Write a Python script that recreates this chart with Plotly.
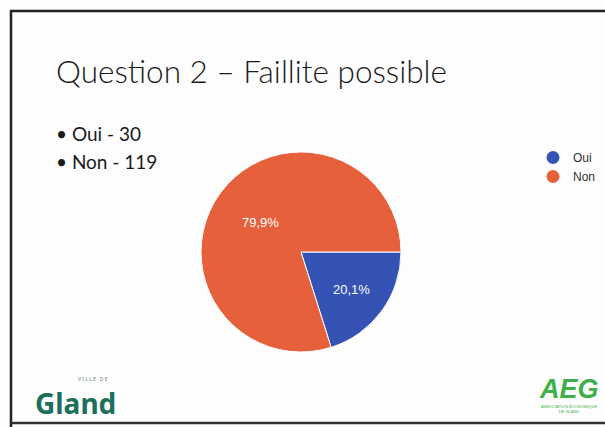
import plotly.graph_objects as go

W, H = 605, 427

labels = ["Oui", "Non"]
values = [30, 119]
colors = ["#3553B5", "#E5603B"]
title_text = "Question 2 – Faillite possible"
bullets = ["Oui - 30", "Non - 119"]

def px(x):
    return x / W

def py(y):
    return 1 - y / H

fig = go.Figure()

fig.add_trace(go.Pie(
    labels=labels, values=values, sort=False, direction="clockwise", rotation=90,
    marker=dict(colors=colors, line=dict(color="white", width=1)),
    texttemplate="%{percent:.1%}", textposition="inside", insidetextorientation="horizontal",
    textfont=dict(family="Liberation Sans, Arial", size=13, color="white"),
    domain=dict(x=[px(201), px(401)], y=[py(352), py(152)]),
    showlegend=False, hoverinfo="label+value+percent",
))

for lab, col in zip(labels, colors):
    fig.add_trace(go.Scatter(x=[None], y=[None], mode="markers", name=lab,
                             marker=dict(color=col, size=13, symbol="circle")))

ann = []
ann.append(dict(text=title_text, x=px(54), y=py(71), xref="paper", yref="paper",
                xanchor="left", yanchor="middle", showarrow=False,
                font=dict(family="Lato", size=31.5, color="#1a1a1a", weight=300)))
for i, b in enumerate(bullets):
    ann.append(dict(text="• " + b, x=px(54), y=py(133 + 28 * i), xref="paper", yref="paper",
                    xanchor="left", yanchor="middle", showarrow=False,
                    font=dict(family="Lato", size=19, color="#1a1a1a")))
# logos
ann.append(dict(text="<b>Gland</b>", x=px(33), y=py(403), xref="paper", yref="paper",
                xanchor="left", yanchor="middle", showarrow=False,
                font=dict(family="Noto Sans", size=28, color="#1E6E5E")))
ann.append(dict(text="V I L L E   D E", x=px(76), y=py(384), xref="paper", yref="paper",
                xanchor="left", yanchor="bottom", showarrow=False,
                font=dict(family="Noto Sans", size=5, color="#6a8a80")))
ann.append(dict(text="<b><i>AEG</i></b>", x=px(569), y=py(389), xref="paper", yref="paper",
                xanchor="center", yanchor="middle", showarrow=False,
                font=dict(family="Liberation Sans", size=27, color="#3DB049")))
ann.append(dict(text="ASSOCIATION ÉCONOMIQUE<br>DE GLAND", x=px(569), y=py(402),
                xref="paper", yref="paper", xanchor="center", yanchor="top",
                showarrow=False, font=dict(family="Liberation Sans", size=4, color="#3DB049")))

shapes = [
    dict(type="line", xref="paper", yref="paper", x0=px(10), x1=1, y0=py(11), y1=py(11),
         line=dict(color="#222", width=2.5)),
    dict(type="line", xref="paper", yref="paper", x0=px(11), x1=px(11), y0=py(10), y1=0,
         line=dict(color="#222", width=2.5)),
    dict(type="line", xref="paper", yref="paper", x0=px(11), x1=1, y0=py(423), y1=py(423),
         line=dict(color="#333", width=2.5)),
]

fig.update_layout(
    width=W, height=H, margin=dict(l=0, r=0, t=0, b=0),
    paper_bgcolor="#FDFDFD", plot_bgcolor="rgba(0,0,0,0)",
    separators=", ",
    xaxis=dict(visible=False), yaxis=dict(visible=False),
    legend=dict(x=px(533), y=py(143), xanchor="left", yanchor="top",
                font=dict(family="Liberation Sans, Arial", size=12, color="#333"),
                bgcolor="rgba(0,0,0,0)", itemwidth=30, tracegroupgap=2),
    annotations=ann, shapes=shapes,
)

fig.write_html("out.html", config={"displayModeBar": False},
               post_script="document.body.style.margin='0';document.body.style.overflow='hidden';")
